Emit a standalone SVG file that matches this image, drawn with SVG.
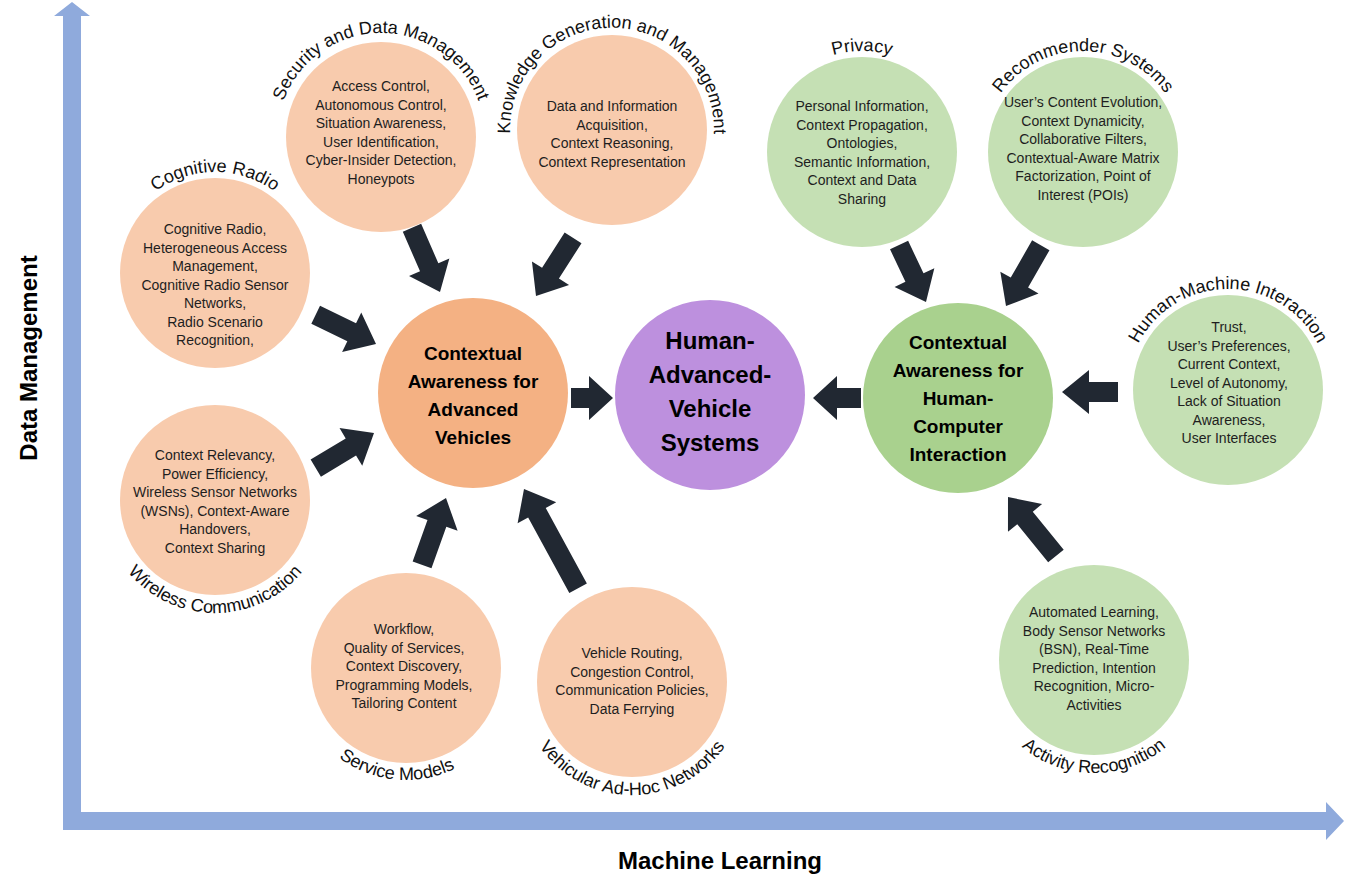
<svg xmlns="http://www.w3.org/2000/svg" width="1351" height="877" viewBox="0 0 1351 877">
<style>
.sm{font-family:"Liberation Sans",Arial,sans-serif;font-size:14px;fill:#1e1e1e;text-anchor:middle}
.lbl{font-family:"Liberation Sans",Arial,sans-serif;font-size:18px;fill:#111}
.big{font-family:"Liberation Sans",Arial,sans-serif;font-weight:bold;fill:#000;text-anchor:middle}
.peach{fill:#f8cbad}
.green{fill:#c5e0b4}
.arr{fill:#212832}
.axis{fill:#8faadc}
</style>
<defs>
<path id="pSec" d="M277,137 A104,104 0 0 1 485,137"/>
<path id="pKno" d="M511.6,147.7 A102,102 0 1 1 712.4,147.7"/>
<path id="pCog" d="M114,273 A101,101 0 0 1 316,273"/>
<path id="pWir" d="M102,500 A113,113 0 0 0 328,500"/>
<path id="pSer" d="M294,668 A112,112 0 0 0 518,668"/>
<path id="pVan" d="M519,682 A113,113 0 0 0 745,682"/>
<path id="pPri" d="M761,152 A101,101 0 0 1 963,152"/>
<path id="pRec" d="M982,152 A101,101 0 0 1 1184,152"/>
<path id="pHmi" d="M1127,390 A101,101 0 0 1 1329,390"/>
<path id="pAct" d="M981,660 A113,113 0 0 0 1207,660"/>
</defs>

<g id="axes">
<path class="axis" d="M63,830 L63,16 L54,16 L72,2 L90,16 L81,16 L81,812 L1326,812 L1326,802 L1344,821 L1326,840 L1326,830 Z"/>
<text class="big" font-size="24" transform="translate(37,358) rotate(-90)">Data Management</text>
<text class="big" font-size="24" x="720" y="869">Machine Learning</text>
</g>

<g id="connectors">
<polygon class="arr" transform="translate(440,292) rotate(66.4)" points="-70,-10 -27,-10 -27,-22 0,0 -27,22 -27,10 -70,10"/>
<polygon class="arr" transform="translate(536,296) rotate(122.5)" points="-69,-10 -27,-10 -27,-22 0,0 -27,22 -27,10 -69,10"/>
<polygon class="arr" transform="translate(376,344) rotate(25.8)" points="-67,-10 -27,-10 -27,-22 0,0 -27,22 -27,10 -67,10"/>
<polygon class="arr" transform="translate(374,433) rotate(-31.1)" points="-68,-10 -27,-10 -27,-22 0,0 -27,22 -27,10 -68,10"/>
<polygon class="arr" transform="translate(446,498) rotate(-70.3)" points="-71,-10 -27,-10 -27,-22 0,0 -27,22 -27,10 -71,10"/>
<polygon class="arr" transform="translate(524,489) rotate(-118.6)" points="-113,-10 -27,-10 -27,-22 0,0 -27,22 -27,10 -113,10"/>
<polygon class="arr" transform="translate(613,398) rotate(0)" points="-42,-10 -24,-10 -24,-22 0,0 -24,22 -24,10 -42,10"/>
<polygon class="arr" transform="translate(813,398) rotate(180)" points="-48,-10 -24,-10 -24,-22 0,0 -24,22 -24,10 -48,10"/>
<polygon class="arr" transform="translate(926,302) rotate(64.7)" points="-63,-10 -27,-10 -27,-22 0,0 -27,22 -27,10 -63,10"/>
<polygon class="arr" transform="translate(1006,306) rotate(119.8)" points="-70,-10 -27,-10 -27,-22 0,0 -27,22 -27,10 -70,10"/>
<polygon class="arr" transform="translate(1062,392) rotate(180)" points="-56,-10 -27,-10 -27,-22 0,0 -27,22 -27,10 -56,10"/>
<polygon class="arr" transform="translate(1008,497) rotate(-129.1)" points="-76,-10 -27,-10 -27,-22 0,0 -27,22 -27,10 -76,10"/>
</g>

<g id="security">
<circle class="peach" cx="381" cy="137" r="95"/>
<text class="lbl"><textPath href="#pSec" startOffset="50%" text-anchor="middle">Security and Data Management</textPath></text>
<text class="sm" x="381" y="91">Access Control,</text>
<text class="sm" x="381" y="109.5">Autonomous Control,</text>
<text class="sm" x="381" y="128">Situation Awareness,</text>
<text class="sm" x="381" y="146.5">User Identification,</text>
<text class="sm" x="381" y="165">Cyber-Insider Detection,</text>
<text class="sm" x="381" y="183.5">Honeypots</text>
</g>

<g id="knowledge">
<circle class="peach" cx="612" cy="130" r="95"/>
<text class="lbl" font-size="17"><textPath href="#pKno" startOffset="50%" text-anchor="middle">Knowledge Generation and Management</textPath></text>
<text class="sm" x="612" y="111">Data and Information</text>
<text class="sm" x="612" y="129.5">Acquisition,</text>
<text class="sm" x="612" y="148">Context Reasoning,</text>
<text class="sm" x="612" y="166.5">Context Representation</text>
</g>

<g id="cognitive">
<circle class="peach" cx="215" cy="273" r="95"/>
<text class="lbl"><textPath href="#pCog" startOffset="50%" text-anchor="middle">Cognitive Radio</textPath></text>
<text class="sm" x="215" y="234">Cognitive Radio,</text>
<text class="sm" x="215" y="252.5">Heterogeneous Access</text>
<text class="sm" x="215" y="271">Management,</text>
<text class="sm" x="215" y="289.5">Cognitive Radio Sensor</text>
<text class="sm" x="215" y="308">Networks,</text>
<text class="sm" x="215" y="326.5">Radio Scenario</text>
<text class="sm" x="215" y="345">Recognition,</text>
</g>

<g id="wireless">
<circle class="peach" cx="215" cy="500" r="95"/>
<text class="lbl" font-size="18.5"><textPath href="#pWir" startOffset="50%" text-anchor="middle">Wireless Communication</textPath></text>
<text class="sm" x="215" y="460">Context Relevancy,</text>
<text class="sm" x="215" y="478.5">Power Efficiency,</text>
<text class="sm" x="215" y="497">Wireless Sensor Networks</text>
<text class="sm" x="215" y="515.5">(WSNs), Context-Aware</text>
<text class="sm" x="215" y="534">Handovers,</text>
<text class="sm" x="215" y="552.5">Context Sharing</text>
</g>

<g id="service">
<circle class="peach" cx="406" cy="668" r="95"/>
<text class="lbl"><textPath href="#pSer" startOffset="47%" text-anchor="middle">Service Models</textPath></text>
<text class="sm" x="404" y="634">Workflow,</text>
<text class="sm" x="404" y="652.5">Quality of Services,</text>
<text class="sm" x="404" y="671">Context Discovery,</text>
<text class="sm" x="404" y="689.5">Programming Models,</text>
<text class="sm" x="404" y="708">Tailoring Content</text>
</g>

<g id="vanet">
<circle class="peach" cx="632" cy="682" r="95"/>
<text class="lbl" font-size="19"><textPath href="#pVan" startOffset="50%" text-anchor="middle">Vehicular Ad-Hoc Networks</textPath></text>
<text class="sm" x="632" y="658">Vehicle Routing,</text>
<text class="sm" x="632" y="676.5">Congestion Control,</text>
<text class="sm" x="632" y="695">Communication Policies,</text>
<text class="sm" x="632" y="713.5">Data Ferrying</text>
</g>

<g id="cav">
<circle cx="473" cy="393" r="95" fill="#f4b183"/>
<text class="big" font-size="19" x="473" y="360">Contextual</text>
<text class="big" font-size="19" x="473" y="388">Awareness for</text>
<text class="big" font-size="19" x="473" y="416">Advanced</text>
<text class="big" font-size="19" x="473" y="444">Vehicles</text>
</g>

<g id="havs">
<circle cx="710" cy="395" r="95" fill="#bd90de"/>
<text class="big" font-size="24" x="710" y="349">Human-</text>
<text class="big" font-size="24" x="710" y="383">Advanced-</text>
<text class="big" font-size="24" x="710" y="417">Vehicle</text>
<text class="big" font-size="24" x="710" y="451">Systems</text>
</g>

<g id="cahci">
<circle cx="958" cy="398" r="95" fill="#a9d18e"/>
<text class="big" font-size="19" x="958" y="349">Contextual</text>
<text class="big" font-size="19" x="958" y="377">Awareness for</text>
<text class="big" font-size="19" x="958" y="405">Human-</text>
<text class="big" font-size="19" x="958" y="433">Computer</text>
<text class="big" font-size="19" x="958" y="461">Interaction</text>
</g>

<g id="privacy">
<circle class="green" cx="862" cy="152" r="95"/>
<text class="lbl"><textPath href="#pPri" startOffset="50%" text-anchor="middle">Privacy</textPath></text>
<text class="sm" x="862" y="111">Personal Information,</text>
<text class="sm" x="862" y="129.5">Context Propagation,</text>
<text class="sm" x="862" y="148">Ontologies,</text>
<text class="sm" x="862" y="166.5">Semantic Information,</text>
<text class="sm" x="862" y="185">Context and Data</text>
<text class="sm" x="862" y="203.5">Sharing</text>
</g>

<g id="recommender">
<circle class="green" cx="1083" cy="152" r="95"/>
<text class="lbl"><textPath href="#pRec" startOffset="50%" text-anchor="middle">Recommender Systems</textPath></text>
<text class="sm" x="1083" y="107">User’s Content Evolution,</text>
<text class="sm" x="1083" y="125.5">Context Dynamicity,</text>
<text class="sm" x="1083" y="144">Collaborative Filters,</text>
<text class="sm" x="1083" y="162.5">Contextual-Aware Matrix</text>
<text class="sm" x="1083" y="181">Factorization, Point of</text>
<text class="sm" x="1083" y="199.5">Interest (POIs)</text>
</g>

<g id="hmi">
<circle class="green" cx="1228" cy="390" r="95"/>
<text class="lbl" font-size="17"><textPath href="#pHmi" startOffset="50%" text-anchor="middle">Human-Machine Interaction</textPath></text>
<text class="sm" x="1229" y="332">Trust,</text>
<text class="sm" x="1229" y="350.5">User’s Preferences,</text>
<text class="sm" x="1229" y="369">Current Context,</text>
<text class="sm" x="1229" y="387.5">Level of Autonomy,</text>
<text class="sm" x="1229" y="406">Lack of Situation</text>
<text class="sm" x="1229" y="424.5">Awareness,</text>
<text class="sm" x="1229" y="443">User Interfaces</text>
</g>

<g id="activity">
<circle class="green" cx="1094" cy="660" r="95"/>
<text class="lbl"><textPath href="#pAct" startOffset="50%" text-anchor="middle">Activity Recognition</textPath></text>
<text class="sm" x="1094" y="617">Automated Learning,</text>
<text class="sm" x="1094" y="635.5">Body Sensor Networks</text>
<text class="sm" x="1094" y="654">(BSN), Real-Time</text>
<text class="sm" x="1094" y="672.5">Prediction, Intention</text>
<text class="sm" x="1094" y="691">Recognition, Micro-</text>
<text class="sm" x="1094" y="709.5">Activities</text>
</g>
</svg>
